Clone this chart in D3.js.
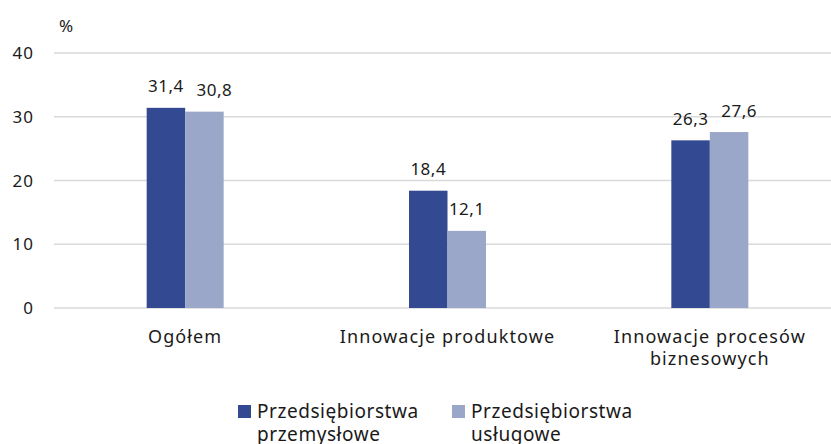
<!DOCTYPE html>
<html>
<head>
<meta charset="utf-8">
<script src="https://cdn.jsdelivr.net/npm/d3@7"></script>
<style>
    body { margin: 0; background: #fff; }
    text { font-family: "Noto Sans", sans-serif; fill: #1a1a1a; }
</style>
</head>
<body>
<div id="chart"></div>
<script>
// categories (multi-line labels split on \n)
const categories = ["Ogółem", "Innowacje produktowe", "Innowacje procesów\nbiznesowych"];
const seriesNames = ["Przedsiębiorstwa\nprzemysłowe", "Przedsiębiorstwa\nusługowe"];
const industrial = [31.4, 18.4, 26.3];
const services = [30.8, 12.1, 27.6];
const yTicks = [0, 10, 20, 30, 40];

const colors = ["#334a93", "#9aa7c9"];

const W = 831, H = 444;
const svg = d3.select("#chart").append("svg")
    .attr("width", W)
    .attr("height", H);

const rows = categories.map((c, i) => ({cat: c, vals: [industrial[i], services[i]]}));

// scales
const x = d3.scaleBand()
    .domain(categories)
    .range([54, 841]);

const y = d3.scaleLinear()
    .domain([0, 40])
    .range([308, 53]);

const barW = 38.5;

// gridlines
svg.append("g")
    .selectAll("line")
    .data(yTicks)
    .enter()
    .append("line")
    .attr("x1", 54)
    .attr("x2", W)
    .attr("y1", d => y(d))
    .attr("y2", d => y(d))
    .attr("stroke", "#d9d9d9")
    .attr("stroke-width", 1.5);

// y tick labels
svg.append("g")
    .selectAll("text")
    .data(yTicks)
    .enter()
    .append("text")
    .attr("x", 34)
    .attr("y", d => y(d) + 6)
    .attr("text-anchor", "end")
    .attr("font-size", "17px")
    .attr("letter-spacing", "1px")
    .text(d => d);

svg.append("text")
    .attr("x", 59)
    .attr("y", 32)
    .attr("font-size", "17px")
    .text("%");

// bars
const groups = svg.selectAll(".grp")
    .data(rows)
    .enter()
    .append("g")
    .attr("class", "grp");

groups.each(function(d) {
    let g = d3.select(this);
    let cx = x(d.cat) + x.bandwidth() / 2;
    // labels of near-equal neighbours get nudged apart, like the original
    let close = Math.abs(d.vals[0] - d.vals[1]) < 3;
    d.vals.forEach((v, j) => {
        let bx = cx - barW + j * barW;
        g.append("rect")
            .attr("x", bx)
            .attr("y", y(v))
            .attr("width", barW)
            .attr("height", y(0) - y(v))
            .attr("fill", colors[j]);
        let shift = (close && j === 1) ? 10 : 0;
        g.append("text")
            .attr("x", bx + barW / 2 + shift)
            .attr("y", y(v) - 15.5)
            .attr("text-anchor", "middle")
            .attr("font-size", "17px")
            .attr("letter-spacing", "0.5px")
            .text(String(v.toFixed(1)).replace(".", ","));
    });

    // category label
    let lines = d.cat.split("\n");
    let t = g.append("text")
        .attr("x", cx)
        .attr("y", 343)
        .attr("text-anchor", "middle")
        .attr("font-size", "18px")
        .attr("letter-spacing", "1.1px");
    lines.forEach((l, k) => {
        t.append("tspan")
            .attr("x", cx)
            .attr("dy", k === 0 ? 0 : 22)
            .text(l);
    });
});

// legend
const legendX = [238, 452];
seriesNames.forEach((s, i) => {
    let lg = svg.append("g");
    lg.append("rect")
        .attr("x", legendX[i])
        .attr("y", 405)
        .attr("width", 13)
        .attr("height", 13)
        .attr("fill", colors[i]);
    let t = lg.append("text")
        .attr("x", legendX[i] + 19)
        .attr("y", 418)
        .attr("font-size", "19px")
        .attr("letter-spacing", "0.55px");
    s.split("\n").forEach((l, k) => {
        t.append("tspan")
            .attr("x", legendX[i] + 19)
            .attr("dy", k === 0 ? 0 : 23)
            .text(l);
    });
});
</script>
</body>
</html>
